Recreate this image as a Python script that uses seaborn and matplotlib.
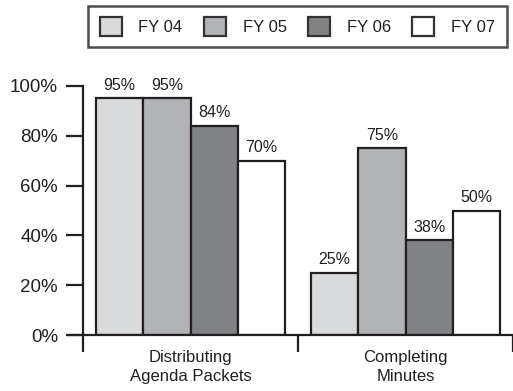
import numpy as np
import pandas as pd
import seaborn as sns
import matplotlib.pyplot as plt

# chart data
tasks = ["Distributing\nAgenda Packets", "Completing\nMinutes"]
years = ["FY 04", "FY 05", "FY 06", "FY 07"]
distributing = [95, 95, 84, 70]
completing = [25, 75, 38, 50]
bar_colors = ["#d9dadb", "#b1b3b6", "#808285", "#ffffff"]

rows = []
for y, a, b in zip(years, distributing, completing):
    rows.append((tasks[0], y, a))
    rows.append((tasks[1], y, b))
df = pd.DataFrame(rows, columns=["task", "year", "pct"])

sns.set_theme(style="white")
plt.rcParams["font.family"] = ["Liberation Sans", "DejaVu Sans"]
ink = "#231f20"

fig = plt.figure(figsize=(5.13, 3.91), dpi=100)
ax = fig.add_axes([83 / 513, 56 / 391, 1 - 83 / 513, 249 / 391])

sns.barplot(data=df, x="task", y="pct", hue="year", order=tasks, hue_order=years,
            palette=bar_colors, edgecolor=ink, linewidth=1.6, width=0.88,
            saturation=1, ax=ax, legend=False)

for cont in ax.containers:
    ax.bar_label(cont, fmt="%d%%", padding=4, fontsize=11.5, color=ink)

ax.set_ylim(0, 100)
ax.set_xlim(-0.5, -0.5 + 430 / 217)
ax.set_yticks(np.arange(0, 101, 20))
ax.set_yticklabels([f"{v}%" for v in range(0, 101, 20)], fontsize=13.5, color=ink)
ax.set_xticks([-0.5, 0.5, 1.5])
ax.set_xticklabels([])
ax.set_xticks([0, 1], minor=True)
ax.set_xticklabels(tasks, minor=True, fontsize=12, color=ink, linespacing=1.3)
ax.tick_params(axis="x", which="major", direction="out", length=12, width=1.6, color=ink, bottom=True)
ax.tick_params(axis="x", which="minor", length=0, pad=11)
ax.tick_params(axis="y", direction="out", length=12, width=1.6, color=ink, left=True, pad=6)
ax.set_xlabel("")
ax.set_ylabel("")
for side in ["top", "right"]:
    ax.spines[side].set_visible(False)
for side in ["left", "bottom"]:
    ax.spines[side].set_color(ink)
    ax.spines[side].set_linewidth(1.6)
ax.spines["bottom"].set_bounds(-0.5 - 16 / 217, ax.get_xlim()[1])

handles = [plt.Rectangle((0, 0), 1, 1, facecolor=c, edgecolor="#333333", linewidth=1.6)
           for c in bar_colors]
leg = fig.legend(handles, years, loc="center", bbox_to_anchor=(297.5 / 513, 1 - 26.5 / 391),
                 ncol=4, frameon=True, fancybox=False, edgecolor=ink, fontsize=12,
                 handlelength=1.3, handleheight=1.3, handletextpad=1.0, columnspacing=1.3,
                 borderpad=0.7, borderaxespad=0)
leg.get_frame().set_linewidth(1.8)
for t in leg.get_texts():
    t.set_color(ink)

fig.savefig("out.png", dpi=100)
